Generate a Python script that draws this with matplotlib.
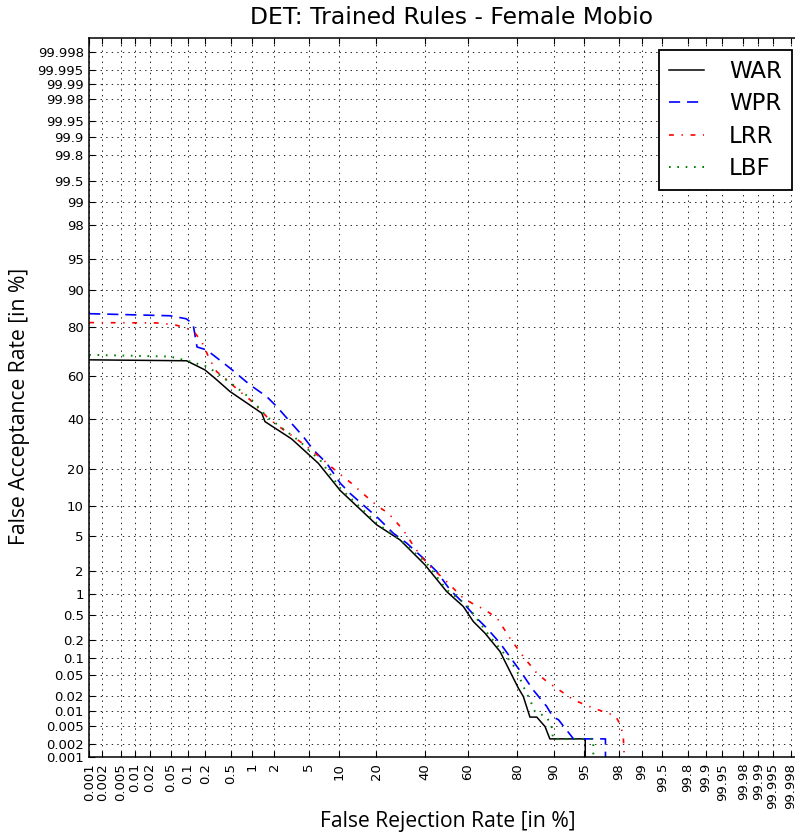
import numpy as np
import matplotlib
matplotlib.use('Agg')
import matplotlib.pyplot as plt
from statistics import NormalDist

plt.rcParams['lines.scale_dashes'] = False

_nd = NormalDist()


def ppf(pct):
    out = []
    for v in np.atleast_1d(pct):
        p = min(max(float(v) / 100.0, 1e-12), 1 - 1e-12)
        out.append(_nd.inv_cdf(p))
    return np.array(out)


tick_labels = ["0.001", "0.002", "0.005", "0.01", "0.02", "0.05", "0.1", "0.2", "0.5",
               "1", "2", "5", "10", "20", "40", "60", "80", "90", "95", "98", "99",
               "99.5", "99.8", "99.9", "99.95", "99.98", "99.99", "99.995", "99.998"]
tick_values = [float(t) for t in tick_labels]

war_frr = [0.001, 0.096, 0.196, 0.285, 0.487, 1.37, 1.51, 3.22, 6.28, 10.2, 20.2, 28.9,
           39.8, 50.0, 57.9, 62.5, 67.6, 73.8, 80.4, 82.0, 84.0, 85.9, 88.0, 89.1, 95.1, 95.1]
war_far = [67.4, 67.0, 63.0, 59.2, 53.0, 42.8, 38.9, 31.3, 21.9, 13.6, 6.6, 4.6,
           2.38, 1.08, 0.665, 0.398, 0.263, 0.131, 0.0287, 0.0198, 0.0076, 0.0076, 0.0048,
           0.0026, 0.0026, 0.0001]

wpr_frr = [0.001, 0.048, 0.094, 0.124, 0.145, 0.21, 0.487, 0.95, 1.59, 2.13, 3.08, 4.36,
           5.58, 7.62, 10.2, 12.4, 20.7, 26.2, 31.7, 39.0, 45.3, 51.6, 57.9, 64.0, 68.4,
           73.8, 78.7, 81.5, 84.9, 88.4, 89.8, 90.9, 93.0, 93.5, 97.1, 97.1]
wpr_far = [84.1, 83.5, 82.6, 81.0, 72.7, 71.5, 63.8, 56.1, 50.6, 45.9, 38.9, 32.3,
           26.9, 21.9, 15.6, 12.9, 7.68, 5.42, 4.24, 2.86, 1.97, 1.14, 0.744, 0.449, 0.315,
           0.181, 0.088, 0.0546, 0.0266, 0.0125, 0.0076, 0.0067, 0.0032, 0.0026, 0.0026, 0.0001]

lrr_frr = [0.001, 0.027, 0.059, 0.096, 0.134, 0.173, 0.237, 0.304, 0.433, 0.68, 0.95, 1.59,
           2.13, 3.36, 4.75, 7.05, 9.48, 13.3, 15.5, 20.7, 24.3, 30.2, 35.3, 41.3, 49.2,
           57.1, 61.8, 66.2, 69.7, 73.1, 77.5, 82.0, 85.9, 88.4, 90.2, 93.5, 95.1, 96.0,
           97.8, 98.1, 98.25, 98.4]
lrr_far = [81.4, 81.3, 80.7, 79.6, 77.9, 74.8, 67.4, 62.2, 58.5, 53.0, 49.1, 41.2,
           37.4, 32.3, 28.2, 23.1, 19.1, 15.1, 13.1, 9.87, 8.57, 5.87, 3.73, 2.38, 1.54,
           0.92, 0.744, 0.63, 0.533, 0.423, 0.218, 0.107, 0.0546, 0.0383, 0.030, 0.017,
           0.0135, 0.0116, 0.0081, 0.0052, 0.0029, 0.0001]

lbf_frr = [0.001, 0.048, 0.096, 0.21, 0.285, 0.545, 0.95, 1.59, 2.34, 4.01, 5.15, 6.53,
           10.2, 20.2, 28.9, 40.6, 50.0, 59.5, 65.5, 69.7, 76.3, 79.8, 82.0, 84.0, 85.4,
           88.4, 89.5, 89.8, 96.0, 96.0]
lbf_far = [69.5, 68.8, 67.1, 64.5, 62.2, 56.1, 49.9, 41.2, 36.7, 30.2, 26.2, 23.1,
           14.2, 6.86, 4.6, 2.49, 1.14, 0.70, 0.376, 0.232, 0.107, 0.0627, 0.0308, 0.017,
           0.0099, 0.0076, 0.0048, 0.0026, 0.0026, 0.0001]

W, H = 795, 836
fig = plt.figure(figsize=(W / 100, H / 100), dpi=100)
ax = fig.add_axes([89.2 / W, 1 - 757.3 / H, (804 - 89.2) / W, (757.3 - 38.4) / H])

ax.plot(ppf(war_frr), ppf(war_far), color='black', lw=1.1, ls='-', label='WAR')
ax.plot(ppf(wpr_frr), ppf(wpr_far), color='#0000ff', lw=1.2, ls=(0, (8, 5)), label='WPR')
ax.plot(ppf(lrr_frr), ppf(lrr_far), color='#ff0000', lw=1.2, ls=(0, (3.5, 5.5, 1, 5.5)), label='LRR')
ax.plot(ppf(lbf_frr), ppf(lbf_far), color='#008000', lw=1.4, ls=(0, (1.2, 4.8)), label='LBF')

lo = ppf([0.001])[0]
ax.set_xlim(lo, -lo)
ax.set_ylim(lo, -lo)

tv = ppf(tick_values)
ax.set_xticks(tv)
ax.set_xticklabels(tick_labels, rotation=90, fontsize=9.5)
ax.set_yticks(tv)
ax.set_yticklabels(tick_labels, fontsize=9.5)
ax.tick_params(direction='in', length=4.5, width=0.8, top=True, right=True, pad=4)
ax.grid(True, color='black', lw=0.6, ls=(0, (1, 3)))
for s in ax.spines.values():
    s.set_linewidth(1.1)

fig.text(451 / W, 1 - 18 / H, 'DET: Trained Rules - Female Mobio', fontsize=16.9,
         ha='center', va='center', family='DejaVu Sans')
fig.text(448 / W, 1 - 822 / H, 'False Rejection Rate [in %]', fontsize=15.2,
         ha='center', va='center', family='Open Sans')
fig.text(20 / W, 1 - 406 / H, 'False Acceptance Rate [in %]', fontsize=15.2,
         ha='center', va='center', rotation=90, family='Open Sans')

leg = ax.legend(loc='upper right', bbox_to_anchor=(792 / W, 1 - 50 / H),
                bbox_transform=fig.transFigure, fontsize=16.5, frameon=True,
                fancybox=False, framealpha=1, edgecolor='black', borderaxespad=0,
                handlelength=1.5, handletextpad=1.1, labelspacing=0.4, borderpad=0.45)
leg.get_frame().set_linewidth(1.3)

fig.savefig('out.png', dpi=100)
